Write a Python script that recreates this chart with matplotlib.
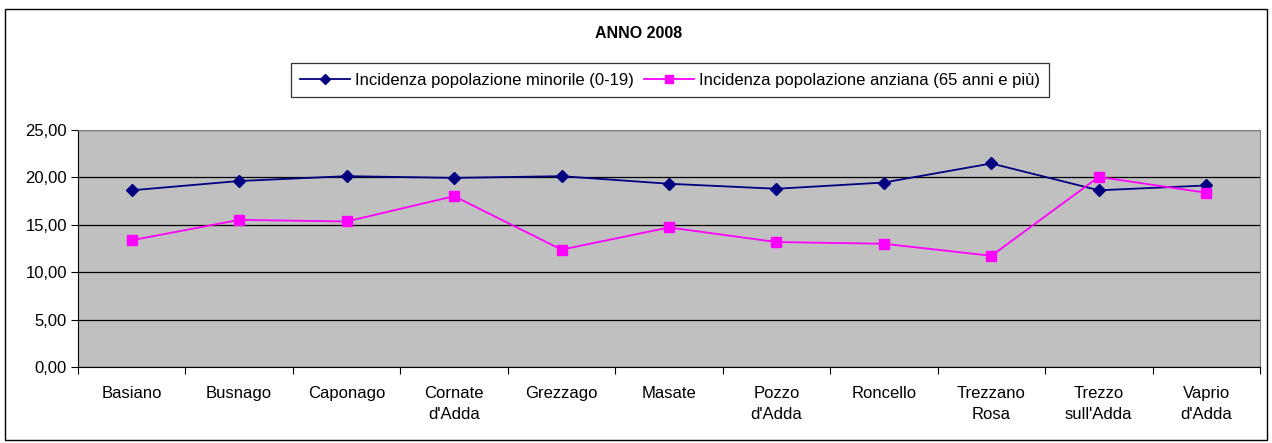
import matplotlib
matplotlib.use("Agg")
import matplotlib.pyplot as plt
from matplotlib.patches import Rectangle

plt.rcParams['font.family'] = ['Liberation Sans', 'DejaVu Sans']

categories = ["Basiano", "Busnago", "Caponago", "Cornate\nd'Adda", "Grezzago", "Masate",
              "Pozzo\nd'Adda", "Roncello", "Trezzano\nRosa", "Trezzo\nsull'Adda", "Vaprio\nd'Adda"]
minori = [18.64, 19.62, 20.13, 19.95, 20.13, 19.33, 18.80, 19.46, 21.47, 18.64, 19.15]
anziani = [13.37, 15.52, 15.35, 18.02, 12.38, 14.72, 13.18, 13.00, 11.73, 20.05, 18.38]
yticks = [0, 5, 10, 15, 20, 25]
title = "ANNO 2008"
labels = ["Incidenza popolazione minorile (0-19)", "Incidenza popolazione anziana (65 anni e più)"]

W, H = 1272, 443
fig = plt.figure(figsize=(W / 100, H / 100), dpi=100)
fig.patch.set_facecolor('white')

# outer chart border
fig.add_artist(Rectangle((5 / W, 1 - 440 / H), 1262 / W, 431 / H, transform=fig.transFigure,
                         fill=False, edgecolor='black', linewidth=1.0))

ax = fig.add_axes([78 / W, 1 - 367 / H, (1260 - 78) / W, (367 - 130) / H])
ax.set_facecolor('#C0C0C0')
x = list(range(len(categories)))
ax.plot(x, minori, color='#000080', marker='D', markersize=6.5, linewidth=1.3, label=labels[0])
ax.plot(x, anziani, color='#FF00FF', marker='s', markersize=7, linewidth=1.3, label=labels[1])

ax.set_xlim(-0.5, len(categories) - 0.5)
ax.set_ylim(0, 25)
ax.set_yticks(yticks)
ax.set_yticklabels([f"{v:.2f}".replace('.', ',') for v in yticks], fontsize=12)
ax.yaxis.grid(True, color='black', linewidth=0.9)
ax.set_axisbelow(True)

ax.set_xticks([i - 0.5 for i in range(len(categories) + 1)])
ax.set_xticklabels([])
ax.set_xticks(x, minor=True)
ax.set_xticklabels(categories, minor=True, fontsize=12, linespacing=1.5)
ax.tick_params(axis='x', which='minor', length=0, pad=14)
ax.tick_params(axis='x', which='major', length=5, direction='out', color='black')
ax.tick_params(axis='y', length=5, direction='out', pad=3)

for s in ['top', 'right']:
    ax.spines[s].set_color('#808080')
for s in ['left', 'bottom']:
    ax.spines[s].set_color('black')

fig.text(639 / W, 1 - 34 / H, title, ha='center', va='center', fontsize=11.5, fontweight='bold')

leg = fig.legend(loc='center', bbox_to_anchor=(670 / W, 1 - 80 / H), ncol=2, fontsize=12,
                 frameon=True, fancybox=False, edgecolor='black', handlelength=3.0,
                 columnspacing=0.6, handletextpad=0.3, borderpad=0.55, borderaxespad=0,
                 markerscale=0.75)
leg.get_frame().set_linewidth(0.9)

fig.savefig('out.png', dpi=100)
